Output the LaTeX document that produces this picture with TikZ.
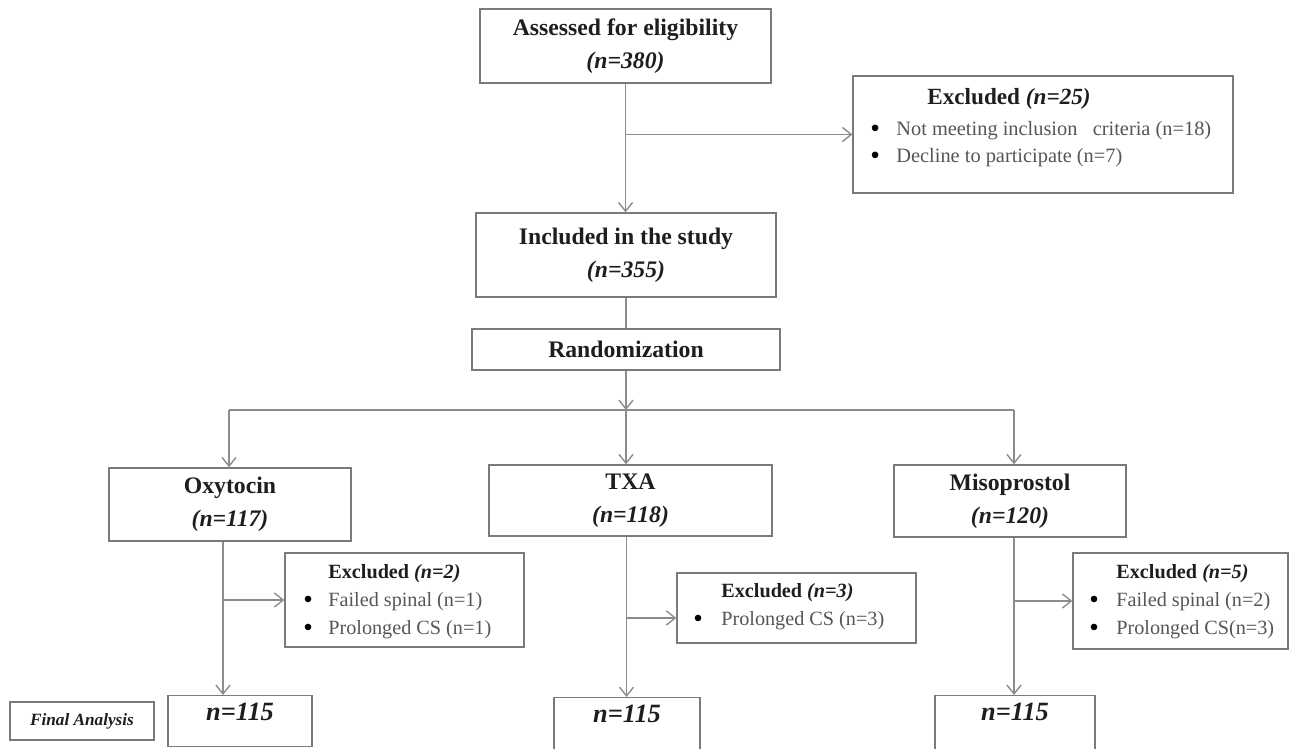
\documentclass[tikz,border=0pt]{standalone}
\usepackage{fontspec}
\usepackage{graphicx}
\setmainfont{Liberation Serif}
\usetikzlibrary{arrows.meta,calc}
\definecolor{linegray}{HTML}{8C8C8C}
\definecolor{boxgray}{HTML}{7A7A7A}
\definecolor{headtxt}{HTML}{1E1E1E}
\definecolor{listtxt}{HTML}{555555}
\newcommand{\bul}[1][0.52cm]{\makebox[#1][l]{\color{black}\raisebox{-0.2ex}{\scalebox{1.35}{\textbullet}}}}
\newcommand{\exhead}[1]{{\color{headtxt}\textbf{Excluded \textit{(#1)}}}}

\begin{document}
\begin{tikzpicture}[x=0.02cm,y=-0.02cm,>={Straight Barb[length=5pt,width=8pt]},
  box/.style={draw=boxgray,line width=0.8pt,inner sep=0pt,align=center,text=headtxt,
    font=\fontsize{13.5}{18.7}\selectfont\bfseries},
  exframe/.style={draw=boxgray,line width=0.8pt,inner sep=0pt},
  extxt/.style={anchor=north west,inner sep=0pt,align=left,text=listtxt,
    font=\fontsize{11.5}{15.9}\selectfont},
  finbox/.style={draw=boxgray,line width=0.8pt,anchor=north,inner ysep=4pt,text=headtxt,
    font=\fontsize{15}{18}\selectfont\bfseries\itshape,text height=10.3pt},
  conn/.style={draw=linegray,line width=0.8pt}]
  \useasboundingbox (0,0) rectangle (1291,748);
  \clip (0,0) rectangle (1291,748);
  % top column
  \node[box,minimum width=5.82cm,minimum height=1.48cm] (assess) at (625.5,46)
    {Assessed for eligibility\\ \textit{(n=380)}};
  \node[exframe,minimum width=7.6cm,minimum height=2.34cm] (ex0) at (1043,134.5) {};
  \node[extxt,font=\fontsize{11.6}{15.3}\selectfont] (ex0t) at (870,88)
    {{\fontsize{13.2}{16}\selectfont\hspace*{1.14cm}\exhead{n=25}}\\[2.3pt]
     \bul Not meeting inclusion\ \ \ criteria (n=18)\\
     \bul Decline to participate (n=7)};
  \node[box,minimum width=6cm,minimum height=1.68cm] (incl) at (626,255)
    {Included in the study\\ \textit{(n=355)}};
  \node[box,minimum width=6.16cm,minimum height=0.82cm] (rand) at (626,349.5) {Randomization};
  % groups
  \node[box,minimum width=4.84cm,minimum height=1.46cm] (oxy) at (230,504.5)
    {Oxytocin\\ \textit{(n=117)}};
  \node[box,minimum width=5.66cm,minimum height=1.42cm] (txa) at (630.5,500.5)
    {TXA\\ \textit{(n=118)}};
  \node[box,minimum width=4.64cm,minimum height=1.44cm] (miso) at (1010,501)
    {Misoprostol\\ \textit{(n=120)}};
  % excluded after allocation
  \node[exframe,minimum width=4.78cm,minimum height=1.88cm] (ex2) at (404.5,600) {};
  \node[extxt] (ex2t) at (303,564)
    {\hspace*{0.5cm}\exhead{n=2}\\ \bul[0.5cm]Failed spinal (n=1)\\ \bul[0.5cm]Prolonged CS (n=1)};
  \node[exframe,minimum width=4.78cm,minimum height=1.4cm] (ex3) at (796.5,608) {};
  \node[extxt] (ex3t) at (693,583)
    {\hspace*{0.56cm}\exhead{n=3}\\ \bul[0.56cm]Prolonged CS (n=3)};
  \node[exframe,minimum width=4.3cm,minimum height=1.92cm] (ex5) at (1180.5,601) {};
  \node[extxt] (ex5t) at (1089,564)
    {\hspace*{0.54cm}\exhead{n=5}\\ \bul[0.54cm]Failed spinal (n=2)\\ \bul[0.54cm]Prolonged CS(n=3)};
  % final analysis
  \node[box,minimum width=2.88cm,minimum height=0.76cm,
    font=\fontsize{9.8}{11}\selectfont\bfseries\itshape] (fa) at (82,721) {Final Analysis};
  \node[finbox,minimum width=2.88cm,text depth=10.6pt] (oxyfin) at (240,695) {n=115};
  \node[finbox,minimum width=2.92cm,text depth=1.3cm] (txafin) at (627,697) {n=115};
  \node[finbox,minimum width=3.2cm,text depth=1.3cm] (misofin) at (1015,695) {n=115};
  % connectors
  \coordinate (ex0in) at (assess.south |- ex0.west);
  \draw[conn,->] (assess.south) -- (assess.south |- incl.north);
  \draw[conn,->] (ex0in) -- (ex0.west);
  \draw[conn] (incl) -- (rand);
  \coordinate (split) at (626,410);
  \coordinate (spl1) at (229,410);
  \coordinate (spl3) at (1014,410);
  \draw[conn,->] (rand.south) -- (split);
  \draw[conn] (spl1) -- (spl3);
  \draw[conn,->] (spl1) -- (spl1 |- oxy.north);
  \draw[conn,->] (split) -- (split |- txa.north);
  \draw[conn,->] (spl3) -- (spl3 |- miso.north);
  \coordinate (oxytr) at ($(oxy.south)+(-7,0)$);
  \coordinate (txatr) at ($(txa.south)+(-4,0)$);
  \coordinate (misotr) at ($(miso.south)+(4,0)$);
  \coordinate (ex3in) at ($(ex3.west)+(0,10)$);
  \draw[conn,->] (oxytr) -- (oxytr |- oxyfin.north);
  \draw[conn,->] (oxytr |- ex2.west) -- (ex2.west);
  \draw[conn,->] (txatr) -- (txatr |- txafin.north);
  \draw[conn,->] (txatr |- ex3in) -- (ex3in);
  \draw[conn,->] (misotr) -- (misotr |- misofin.north);
  \draw[conn,->] (misotr |- ex5.west) -- (ex5.west);
\end{tikzpicture}
\end{document}
